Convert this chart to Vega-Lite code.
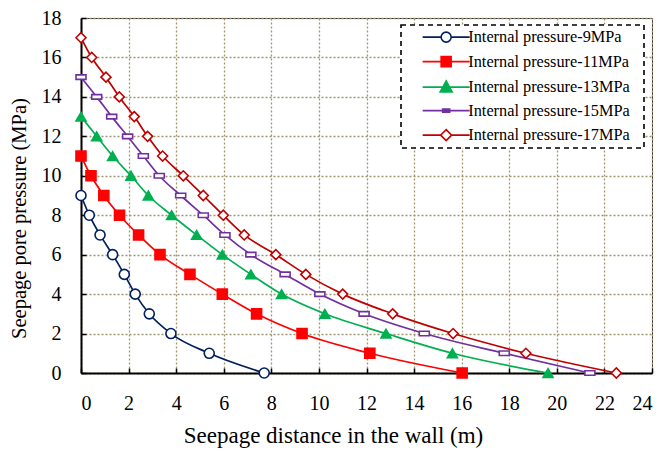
{
  "$schema": "https://vega.github.io/schema/vega-lite/v6.json",
  "width": 571,
  "height": 355,
  "autosize": "none",
  "padding": {"left": 81, "top": 18, "right": 11, "bottom": 81},
  "background": "white",
  "config": {
    "font": "Liberation Serif",
    "view": {"stroke": "#333333", "strokeWidth": 1},
    "axis": {
      "labelFont": "Liberation Serif",
      "labelFontSize": 20,
      "labelColor": "black",
      "titleFont": "Liberation Serif",
      "titleFontWeight": "normal",
      "titleColor": "black",
      "domainColor": "black",
      "domainWidth": 2,
      "tickColor": "black",
      "tickWidth": 1.5,
      "tickSize": -5,
      "gridColor": "#9d9670",
      "gridDash": [2, 2],
      "gridWidth": 1.3,
      "gridOpacity": 1
    }
  },
  "data": {
    "values": [
      {"series": "Internal pressure-9MPa", "x": 0, "y": 9},
      {"series": "Internal pressure-9MPa", "x": 0.35, "y": 8},
      {"series": "Internal pressure-9MPa", "x": 0.8, "y": 7},
      {"series": "Internal pressure-9MPa", "x": 1.33, "y": 6},
      {"series": "Internal pressure-9MPa", "x": 1.82, "y": 5},
      {"series": "Internal pressure-9MPa", "x": 2.28, "y": 4},
      {"series": "Internal pressure-9MPa", "x": 2.87, "y": 3},
      {"series": "Internal pressure-9MPa", "x": 3.78, "y": 2},
      {"series": "Internal pressure-9MPa", "x": 5.39, "y": 1},
      {"series": "Internal pressure-9MPa", "x": 7.7, "y": 0},
      {"series": "Internal pressure-11MPa", "x": 0, "y": 11},
      {"series": "Internal pressure-11MPa", "x": 0.42, "y": 10},
      {"series": "Internal pressure-11MPa", "x": 0.96, "y": 9},
      {"series": "Internal pressure-11MPa", "x": 1.62, "y": 8},
      {"series": "Internal pressure-11MPa", "x": 2.42, "y": 7},
      {"series": "Internal pressure-11MPa", "x": 3.32, "y": 6},
      {"series": "Internal pressure-11MPa", "x": 4.58, "y": 5},
      {"series": "Internal pressure-11MPa", "x": 5.94, "y": 4},
      {"series": "Internal pressure-11MPa", "x": 7.38, "y": 3},
      {"series": "Internal pressure-11MPa", "x": 9.29, "y": 2},
      {"series": "Internal pressure-11MPa", "x": 12.14, "y": 1},
      {"series": "Internal pressure-11MPa", "x": 16.02, "y": 0},
      {"series": "Internal pressure-13MPa", "x": 0, "y": 13},
      {"series": "Internal pressure-13MPa", "x": 0.66, "y": 12},
      {"series": "Internal pressure-13MPa", "x": 1.33, "y": 11},
      {"series": "Internal pressure-13MPa", "x": 2.1, "y": 10},
      {"series": "Internal pressure-13MPa", "x": 2.83, "y": 9},
      {"series": "Internal pressure-13MPa", "x": 3.81, "y": 8},
      {"series": "Internal pressure-13MPa", "x": 4.86, "y": 7},
      {"series": "Internal pressure-13MPa", "x": 5.94, "y": 6},
      {"series": "Internal pressure-13MPa", "x": 7.14, "y": 5},
      {"series": "Internal pressure-13MPa", "x": 8.43, "y": 4},
      {"series": "Internal pressure-13MPa", "x": 10.25, "y": 3},
      {"series": "Internal pressure-13MPa", "x": 12.82, "y": 2},
      {"series": "Internal pressure-13MPa", "x": 15.61, "y": 1},
      {"series": "Internal pressure-13MPa", "x": 19.63, "y": 0},
      {"series": "Internal pressure-15MPa", "x": 0, "y": 15},
      {"series": "Internal pressure-15MPa", "x": 0.66, "y": 14},
      {"series": "Internal pressure-15MPa", "x": 1.29, "y": 13},
      {"series": "Internal pressure-15MPa", "x": 1.96, "y": 12},
      {"series": "Internal pressure-15MPa", "x": 2.62, "y": 11},
      {"series": "Internal pressure-15MPa", "x": 3.29, "y": 10},
      {"series": "Internal pressure-15MPa", "x": 4.19, "y": 9},
      {"series": "Internal pressure-15MPa", "x": 5.14, "y": 8},
      {"series": "Internal pressure-15MPa", "x": 6.05, "y": 7},
      {"series": "Internal pressure-15MPa", "x": 7.14, "y": 6},
      {"series": "Internal pressure-15MPa", "x": 8.58, "y": 5},
      {"series": "Internal pressure-15MPa", "x": 10.04, "y": 4},
      {"series": "Internal pressure-15MPa", "x": 11.9, "y": 3},
      {"series": "Internal pressure-15MPa", "x": 14.43, "y": 2},
      {"series": "Internal pressure-15MPa", "x": 17.79, "y": 1},
      {"series": "Internal pressure-15MPa", "x": 21.39, "y": 0},
      {"series": "Internal pressure-17MPa", "x": 0, "y": 17},
      {"series": "Internal pressure-17MPa", "x": 0.45, "y": 16},
      {"series": "Internal pressure-17MPa", "x": 1.05, "y": 15},
      {"series": "Internal pressure-17MPa", "x": 1.61, "y": 14},
      {"series": "Internal pressure-17MPa", "x": 2.24, "y": 13},
      {"series": "Internal pressure-17MPa", "x": 2.8, "y": 12},
      {"series": "Internal pressure-17MPa", "x": 3.43, "y": 11},
      {"series": "Internal pressure-17MPa", "x": 4.3, "y": 10},
      {"series": "Internal pressure-17MPa", "x": 5.14, "y": 9},
      {"series": "Internal pressure-17MPa", "x": 5.98, "y": 8},
      {"series": "Internal pressure-17MPa", "x": 6.86, "y": 7},
      {"series": "Internal pressure-17MPa", "x": 8.19, "y": 6},
      {"series": "Internal pressure-17MPa", "x": 9.45, "y": 5},
      {"series": "Internal pressure-17MPa", "x": 11.0, "y": 4},
      {"series": "Internal pressure-17MPa", "x": 13.1, "y": 3},
      {"series": "Internal pressure-17MPa", "x": 15.64, "y": 2},
      {"series": "Internal pressure-17MPa", "x": 18.7, "y": 1},
      {"series": "Internal pressure-17MPa", "x": 22.5, "y": 0}
    ]
  },
  "encoding": {
    "x": {
      "field": "x", "type": "quantitative",
      "scale": {"domain": [0, 24], "nice": false, "zero": false},
      "axis": {"values": [0, 2, 4, 6, 8, 10, 12, 14, 16, 18, 20, 22, 24], "title": "Seepage distance in the wall (m)", "labelPadding": 25, "titleFontSize": 23, "titleX": 252, "titleY": 69, "titleBaseline": "alphabetic", "titleAnchor": "middle", "titleAlign": "center"}
    },
    "y": {
      "field": "y", "type": "quantitative",
      "scale": {"domain": [0, 18], "nice": false},
      "axis": {"values": [0, 2, 4, 6, 8, 10, 12, 14, 16, 18], "title": "Seepage pore pressure (MPa)", "labelPadding": 25, "titleFontSize": 20.5, "titleX": -62, "titleY": 200, "titleBaseline": "middle", "titleAlign": "center", "titleAngle": -90}
    },
    "color": {
      "field": "series", "type": "nominal",
      "scale": {
        "domain": ["Internal pressure-9MPa", "Internal pressure-11MPa", "Internal pressure-13MPa", "Internal pressure-15MPa", "Internal pressure-17MPa"],
        "range": ["#002060", "#FF0000", "#00B050", "#7030A0", "#C00000"]
      },
      "legend": null
    }
  },
  "resolve": {"scale": {"shape": "independent", "fill": "independent", "size": "independent", "strokeWidth": "independent", "stroke": "independent"}},
  "layer": [
    {
      "mark": {"type": "line", "interpolate": "monotone"},
      "encoding": {
        "strokeWidth": {
          "field": "series", "type": "nominal",
          "scale": {
            "domain": ["Internal pressure-9MPa", "Internal pressure-11MPa", "Internal pressure-13MPa", "Internal pressure-15MPa", "Internal pressure-17MPa"],
            "range": [1.7, 1.7, 1.7, 1.7, 1.1]
          },
          "legend": null
        }
      }
    },
    {
      "mark": {"type": "point", "filled": false, "strokeWidth": 1.6, "opacity": 1},
      "encoding": {
        "shape": {
          "field": "series", "type": "nominal",
          "scale": {
            "domain": ["Internal pressure-9MPa", "Internal pressure-11MPa", "Internal pressure-13MPa", "Internal pressure-15MPa", "Internal pressure-17MPa"],
            "range": ["circle", "square", "triangle-up", "M-1,-0.45H1V0.45H-1Z", "diamond"]
          },
          "legend": null
        },
        "fill": {
          "field": "series", "type": "nominal",
          "scale": {
            "domain": ["Internal pressure-9MPa", "Internal pressure-11MPa", "Internal pressure-13MPa", "Internal pressure-15MPa", "Internal pressure-17MPa"],
            "range": ["white", "#FF0000", "#00B050", "white", "white"]
          },
          "legend": null
        },
        "size": {
          "field": "series", "type": "nominal",
          "scale": {
            "domain": ["Internal pressure-9MPa", "Internal pressure-11MPa", "Internal pressure-13MPa", "Internal pressure-15MPa", "Internal pressure-17MPa"],
            "range": [100, 100, 150, 64, 121]
          },
          "legend": null
        }
      }
    },
    {
      "transform": [{"filter": "datum.y > 1000"}],
      "mark": {"type": "point", "filled": false, "strokeWidth": 1.6, "opacity": 1},
      "encoding": {
        "shape": {
          "field": "series", "type": "nominal",
          "scale": {
            "domain": ["Internal pressure-9MPa", "Internal pressure-11MPa", "Internal pressure-13MPa", "Internal pressure-15MPa", "Internal pressure-17MPa"],
            "range": [
              "M-4.7,0H-1M1,0H4.7M-1,0A1,1 0 1,0 1,0A1,1 0 1,0 -1,0Z",
              "M-4.7,0H4.7M-1,-1H1V1H-1Z",
              "M-4.7,0H4.7M0,-1.25L1.2,0.95H-1.2Z",
              "M-4.7,0H4.7M-0.7,-0.3H0.7V0.3H-0.7Z",
              "M-4.7,0H-1.1M1.1,0H4.7M0,-1.1L1.1,0L0,1.1L-1.1,0Z"
            ]
          },
          "legend": {
            "title": "\u00a0",
            "titleOrient": "right",
            "titlePadding": 10,
            "titleFontSize": 16,
            "titleAnchor": "start",
            "orient": "none",
            "legendX": 320,
            "legendY": 7,
            "labelFont": "Liberation Serif",
            "labelFontSize": 16.3,
            "labelColor": "black",
            "labelLimit": 300,
            "symbolSize": 100,
            "symbolStrokeWidth": 1.6,
            "symbolOffset": 33,
            "labelOffset": 14,
            "rowPadding": 6.5,
            "padding": 4,
            "strokeColor": "black",
            "fillColor": "white",
            "encoding": {
              "legend": {"strokeDash": {"value": [5, 4]}, "strokeWidth": {"value": 1.6}}
            }
          }
        },
        "fill": {
          "field": "series", "type": "nominal",
          "scale": {
            "domain": ["Internal pressure-9MPa", "Internal pressure-11MPa", "Internal pressure-13MPa", "Internal pressure-15MPa", "Internal pressure-17MPa"],
            "range": ["white", "#FF0000", "#00B050", "#7030A0", "white"]
          },
          "legend": null
        },
        "stroke": {
          "field": "series", "type": "nominal",
          "scale": {
            "domain": ["Internal pressure-9MPa", "Internal pressure-11MPa", "Internal pressure-13MPa", "Internal pressure-15MPa", "Internal pressure-17MPa"],
            "range": ["#002060", "#FF0000", "#00B050", "#7030A0", "#C00000"]
          },
          "legend": null
        }
      }
    }
  ]
}
